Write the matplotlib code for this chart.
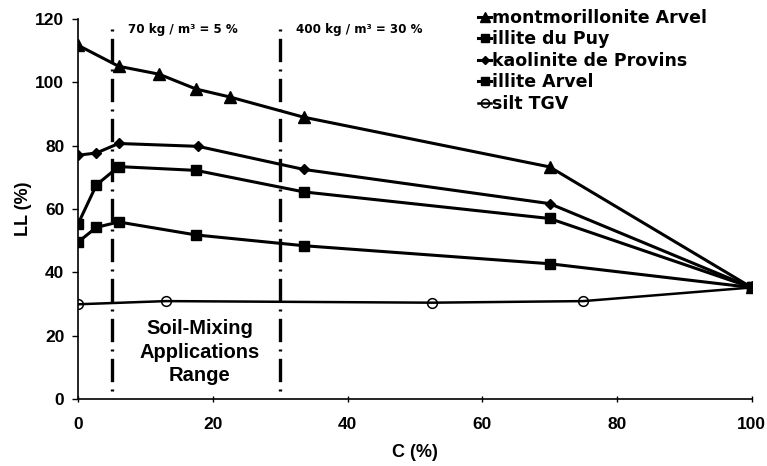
import matplotlib
matplotlib.use("Agg")
import matplotlib.pyplot as plt

plt.rcParams['font.family'] = ['Liberation Sans', 'DejaVu Sans']
plt.rcParams['font.weight'] = 'bold'

# liquid limit LL (%) against clay content C (%)
c_mont = [0, 6, 12, 17.5, 22.5, 33.5, 70, 100]
ll_mont = [111.7, 105.1, 102.6, 97.9, 95.4, 89.0, 73.3, 35.2]

c_puy = [0, 2.7, 6, 17.5, 33.5, 70, 100]
ll_puy = [55.4, 67.6, 73.4, 72.2, 65.4, 57.0, 35.2]

c_kaol = [0, 2.7, 6, 17.8, 33.5, 70, 100]
ll_kaol = [77.0, 77.7, 80.7, 79.8, 72.5, 61.7, 35.2]

c_arvel = [0, 2.7, 6, 17.5, 33.5, 70, 100]
ll_arvel = [49.6, 54.2, 55.9, 51.8, 48.4, 42.7, 35.2]

c_silt = [0, 13, 52.5, 75, 100]
ll_silt = [29.9, 30.9, 30.4, 30.9, 35.2]

series_labels = ['montmorillonite Arvel', 'illite du Puy', 'kaolinite de Provins',
                 'illite Arvel', 'silt TGV']

# soil-mixing dosage limits
c_limits = [5, 30]
limit_texts = ['70 kg / m³ = 5 %', '400 kg / m³ = 30 %']
limit_top = 117

fig = plt.figure(figsize=(7.67, 4.66), dpi=100)
ax = fig.add_axes([0.102, 0.144, 0.878, 0.815])

lw = 2.2
ax.plot(c_mont, ll_mont, '-^', color='black', lw=lw, ms=8, label=series_labels[0])
ax.plot(c_puy, ll_puy, '-s', color='black', lw=lw, ms=7.5, label=series_labels[1])
ax.plot(c_kaol, ll_kaol, '-D', color='black', lw=lw, ms=5, label=series_labels[2])
ax.plot(c_arvel, ll_arvel, '-s', color='black', lw=lw, ms=7.5, label=series_labels[3])
ax.plot(c_silt, ll_silt, '-o', color='black', lw=1.8, ms=7, mfc='none',
        mew=1.1, label=series_labels[4])

# dash-dot limits, drawn top-down so the pattern starts with a dot
for xv, txt in zip(c_limits, limit_texts):
    ax.plot([xv, xv], [limit_top, 0], color='black', lw=2.4,
            linestyle=(0, (0.6, 2.2, 7, 2.2)), solid_capstyle='butt')
    ax.text(xv + 2.4, 116.7, txt, fontsize=8.6, fontweight='bold', va='center',
            family=['DejaVu Sans'])

ax.text(18, 14.8, 'Soil-Mixing\nApplications\nRange', fontsize=14.5,
        fontweight='bold', ha='center', va='center', linespacing=1.3)

ax.set_xlim(0, 100)
ax.set_ylim(0, 120)
ax.set_xticks(range(0, 101, 20))
ax.set_yticks(range(0, 121, 20))
ax.tick_params(axis='both', labelsize=12.5, width=1, length=4)
ax.tick_params(axis='x', direction='inout', pad=11)
ax.tick_params(axis='y', direction='out', pad=6)
for lbl in ax.get_xticklabels() + ax.get_yticklabels():
    lbl.set_fontweight('bold')
ax.spines['top'].set_visible(False)
ax.spines['right'].set_visible(False)
ax.spines['left'].set_linewidth(1.2)
ax.spines['bottom'].set_linewidth(1.2)

ax.set_xlabel('C (%)', fontsize=13, fontweight='bold', labelpad=9)
ax.set_ylabel('LL (%)', fontsize=13, fontweight='bold', labelpad=2)

fig.legend(loc='upper left', bbox_to_anchor=(478 / 767, 1 - 9 / 466),
           frameon=False, prop={'family': 'DejaVu Sans', 'weight': 'bold', 'size': 12.5},
           handlelength=0.75, handletextpad=0.05, labelspacing=0.2,
           borderaxespad=0, borderpad=0, markerscale=0.85)

fig.savefig('out.png', dpi=100)
